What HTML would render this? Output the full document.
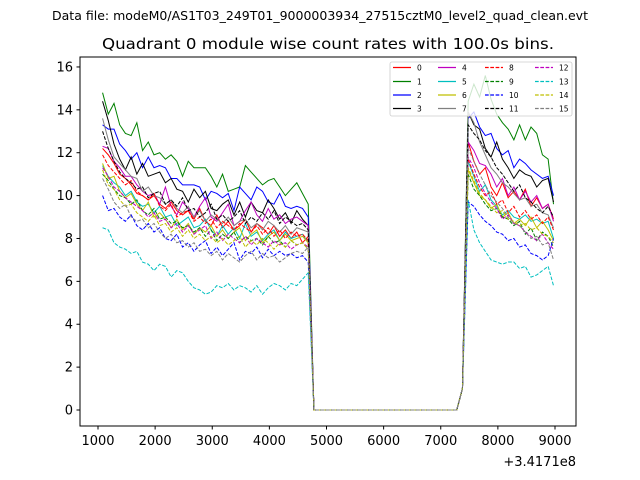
<!DOCTYPE html>
<html><head><meta charset="utf-8"><style>
html,body{margin:0;padding:0;background:#fff;}
svg{display:block;font-family:"DejaVu Sans","Liberation Sans",sans-serif;}
</style></head><body>
<svg id="chart" width="640" height="480" viewBox="0 0 640 480" xmlns="http://www.w3.org/2000/svg">
<rect x="0" y="0" width="640" height="480" fill="#fff"/>
<text x="320" y="20" text-anchor="middle" font-size="12" textLength="536" lengthAdjust="spacingAndGlyphs">Data file: modeM0/AS1T03_249T01_9000003934_27515cztM0_level2_quad_clean.evt</text>
<text x="328" y="49" text-anchor="middle" font-size="15" textLength="452" lengthAdjust="spacingAndGlyphs">Quadrant 0 module wise count rates with 100.0s bins.</text>
<g id="plot"></g>
<rect x="80" y="57" width="496" height="369" fill="none" stroke="#000" stroke-width="1"/>
<g id="xticks"></g>
<g id="yticks"></g>
<text x="576" y="466" text-anchor="end" font-size="13">+3.4171e8</text>
<g id="legend"></g>
</svg>
<script>
const seriesNames = ["0","1","2","3","4","5","6","7","8","9","10","11","12","13","14","15"];
const gapValues = [0,0,0,0,0,0,0,0,0,0,0,0,0,0,0,0,0,0,0,0,0,0,0,0,0,0,1.0];
const s0 = [12.2,11.9,11.5,11.0,10.8,10.5,10.1,10.0,9.8,10.0,9.6,9.4,9.7,9.3,9.1,9.3,8.9,9.4,8.8,8.6,9.1,8.5,8.8,8.4,8.6,8.9,8.3,8.7,8.5,8.2,8.6,8.1,8.4,8.0,8.3,7.8,8.1];
const s0b = [12.5,11.6,11.0,11.3,10.4,10.0,10.6,9.9,10.2,9.8,10.3,9.5,9.9,9.4,9.6,8.9];
const s1 = [14.8,13.8,14.3,13.3,12.9,12.8,13.4,12.1,12.5,11.9,12.0,11.7,11.9,11.6,10.9,11.6,11.3,11.3,11.3,10.9,10.4,11.0,10.2,10.3,10.4,11.4,11.1,10.8,10.5,10.7,10.8,10.4,10.0,10.3,10.6,10.1,9.6];
const s1b = [14.4,15.2,14.6,15.6,14.5,13.8,13.4,13.1,12.6,13.3,12.6,13.2,12.9,11.9,11.7,9.6];
const s2 = [13.3,13.1,13.1,12.4,12.1,11.7,12.0,11.3,11.8,11.3,11.4,11.3,10.8,10.8,10.5,10.5,10.5,10.4,9.8,10.2,10.1,9.9,10.1,9.3,10.4,10.1,9.8,10.4,10.2,9.7,9.6,10.1,9.5,9.4,9.5,9.4,9.0];
const s2b = [13.6,13.9,13.2,12.8,12.9,12.2,11.9,12.1,11.3,11.7,11.5,11.2,11.0,10.8,10.9,10.0];
const s3 = [14.4,13.5,12.4,11.7,11.2,11.8,11.0,11.5,10.9,11.0,11.1,10.6,10.8,10.3,10.2,9.7,10.3,9.9,10.2,9.4,9.3,9.6,9.8,9.1,9.7,9.0,9.7,9.3,9.2,9.8,9.4,8.9,9.2,8.7,9.3,8.9,8.6];
const s3b = [13.9,13.3,13.1,12.2,11.8,12.5,11.7,11.3,10.8,11.2,11.0,10.9,10.4,10.7,10.8,9.7];
const s4 = [12.3,12.2,11.6,11.3,10.9,10.9,10.5,10.2,10.0,10.1,9.6,10.4,9.5,9.1,9.7,9.4,9.0,9.5,9.9,9.0,8.8,9.2,9.6,8.6,8.8,9.3,9.7,9.1,8.8,9.4,8.9,9.1,8.7,8.9,9.0,8.8,8.6];
const s4b = [12.5,12.1,11.5,11.4,11.0,10.4,10.8,10.0,10.4,9.8,10.2,9.7,10.0,9.4,9.6,8.8];
const s5 = [11.4,10.9,10.6,10.4,10.0,10.2,9.7,9.5,9.6,9.2,9.5,9.0,9.1,8.6,8.8,9.0,8.5,8.6,8.9,8.4,8.1,8.6,8.2,8.5,8.0,8.7,8.1,8.3,7.9,8.2,8.4,7.9,8.3,8.0,8.1,8.2,7.8];
const s5b = [11.6,10.9,10.2,10.5,9.8,9.5,9.1,9.3,9.0,8.9,9.1,8.8,8.9,8.7,8.8,8.0];
const s6 = [11.5,10.8,10.9,10.2,9.9,10.1,9.6,9.3,9.7,9.0,9.2,8.9,8.5,8.9,8.4,8.7,8.2,8.5,8.3,8.6,8.1,8.4,8.0,8.3,8.5,7.9,8.2,8.4,7.8,8.1,8.3,7.9,8.2,7.9,8.0,8.1,7.8];
const s6b = [11.2,10.6,10.0,9.8,9.4,9.6,9.0,9.2,8.7,8.9,8.6,9.0,8.5,8.8,8.4,7.9];
const s7 = [13.6,12.6,11.8,11.5,11.2,10.9,10.8,10.2,10.4,10.0,9.9,9.6,9.8,9.4,9.2,9.5,9.0,9.3,8.8,9.1,8.9,8.7,9.0,8.6,8.8,8.9,8.5,8.7,8.4,8.8,8.6,8.3,8.6,8.2,8.5,8.4,8.3];
const s7b = [13.9,13.4,12.5,11.9,11.3,11.0,10.6,10.4,10.1,9.8,9.9,9.5,9.6,9.2,9.1,8.5];
const s8 = [11.9,11.4,11.1,10.8,10.5,10.7,10.2,10.0,9.8,10.1,9.5,9.3,9.6,9.0,9.2,9.3,8.8,9.0,8.7,8.9,8.5,8.8,8.6,8.4,8.7,8.5,8.3,8.6,8.2,8.5,8.1,8.4,8.0,8.3,8.1,8.2,7.9];
const s8b = [11.7,11.0,10.4,10.0,10.2,9.6,9.8,9.2,9.5,9.0,9.3,8.9,9.1,8.7,9.0,8.4];
const s9 = [11.0,10.7,10.3,10.0,9.9,9.6,9.8,9.3,9.1,9.4,8.9,9.0,8.7,8.8,8.5,8.6,8.3,8.5,8.1,8.4,7.9,8.2,8.0,8.3,7.8,8.1,7.9,8.0,7.7,8.1,7.8,7.9,7.6,7.9,7.7,7.8,7.5];
const s9b = [11.0,10.3,10.0,9.6,9.3,9.4,9.0,8.9,8.6,8.8,8.2,8.5,7.9,8.3,8.1,7.6];
const s10 = [10.0,9.3,9.4,9.0,8.8,9.1,8.6,8.4,8.7,8.3,8.5,8.0,7.9,8.2,7.6,7.8,7.4,7.7,7.9,7.3,7.6,7.2,7.5,7.8,7.0,7.4,7.3,7.6,7.1,7.5,7.2,7.4,7.2,7.3,7.1,7.2,6.9];
const s10b = [9.7,9.5,9.1,8.8,8.6,8.3,8.2,7.9,8.0,7.6,7.7,7.3,7.2,7.0,7.2,8.0];
const s11 = [13.0,12.2,11.6,11.1,10.8,10.6,10.3,10.4,9.9,10.1,10.2,9.6,9.8,9.5,9.9,9.3,9.4,9.0,9.2,9.6,8.9,9.1,8.8,9.0,9.3,8.7,9.0,8.8,9.2,8.9,9.3,8.7,9.0,8.8,8.6,8.7,8.4];
const s11b = [13.3,12.9,12.6,12.1,11.8,11.3,11.0,10.6,10.2,10.5,9.9,9.7,9.4,9.2,9.5,9.0];
const s12 = [11.3,10.9,10.4,10.2,9.9,9.7,9.5,9.3,9.0,9.2,8.8,8.9,8.5,8.7,8.3,8.6,8.2,8.4,8.6,8.0,8.3,7.9,8.2,8.0,7.8,8.1,7.7,8.0,7.8,7.6,7.9,7.7,7.8,7.5,7.7,7.8,7.6];
const s12b = [11.8,11.3,10.6,10.1,9.7,9.4,8.9,9.1,8.7,8.6,8.3,8.1,7.9,8.2,7.8,7.5];
const s13 = [8.5,8.4,7.8,7.6,7.5,7.3,7.4,6.9,6.8,6.5,6.8,6.7,6.2,6.5,6.4,6.0,5.7,5.6,5.4,5.5,5.8,5.7,5.9,5.6,5.8,5.7,5.5,5.8,5.4,5.7,5.9,5.8,5.6,5.9,5.8,6.1,6.4];
const s13b = [9.8,8.4,7.8,7.4,7.0,6.9,6.8,6.9,6.9,6.6,6.7,6.2,6.3,6.5,6.7,5.8];
const s14 = [11.2,10.5,10.3,9.8,9.5,9.6,9.2,9.0,8.8,9.1,8.6,8.7,8.3,8.5,8.1,8.4,8.0,8.2,7.9,8.1,7.8,8.0,7.7,7.9,8.1,7.6,7.9,7.7,8.0,7.8,7.5,7.8,7.6,7.9,7.7,7.8,7.5];
const s14b = [11.3,10.7,10.1,9.8,9.5,9.2,9.3,8.9,8.8,8.6,8.7,8.4,8.5,8.2,8.1,7.8];
const s15 = [10.8,10.3,9.7,9.4,9.6,9.0,8.8,8.9,8.5,8.7,8.3,8.0,8.2,7.8,7.9,7.6,7.8,7.4,7.5,7.2,7.4,7.0,7.3,7.1,6.9,7.2,7.4,7.0,7.3,7.1,7.2,6.9,7.1,7.3,7.4,7.3,7.6];
const s15b = [12.2,11.6,11.0,10.5,10.0,9.7,9.4,9.0,8.7,8.6,8.3,8.0,8.1,7.7,7.8,7.0];
const xTickValues = [1000,2000,3000,4000,5000,6000,7000,8000,9000];
const yTickValues = [0,2,4,6,8,10,12,14,16];

const firstSegs = [s0,s1,s2,s3,s4,s5,s6,s7,s8,s9,s10,s11,s12,s13,s14,s15];
const secondSegs = [s0b,s1b,s2b,s3b,s4b,s5b,s6b,s7b,s8b,s9b,s10b,s11b,s12b,s13b,s14b,s15b];
const colors = ["#ff0000","#008000","#0000ff","#000000","#bf00bf","#00bfbf","#bfbf00","#808080"];
const NS = "http://www.w3.org/2000/svg";
function xs(t){ return 98 + (t-1000)*0.057125; }
function ys(v){ return 410 - v*21.44; }

const plot = document.getElementById('plot');
firstSegs.forEach((seg, k) => {
  const vals = seg.concat(gapValues, secondSegs[k]);
  const pts = vals.map((v,i) => {
    const t = (i === vals.length-1) ? 8974 : 1080 + 100*i;
    return xs(t).toFixed(2)+","+ys(v).toFixed(2);
  }).join(" ");
  const pl = document.createElementNS(NS,'polyline');
  pl.setAttribute('points', pts);
  pl.setAttribute('fill','none');
  pl.setAttribute('stroke', colors[k%8]);
  pl.setAttribute('stroke-width','1');
  if (k >= 8) pl.setAttribute('stroke-dasharray','3.7,1.6');
  
  
  plot.appendChild(pl);
});

const xg = document.getElementById('xticks');
xTickValues.forEach(t => {
  const x = xs(t);
  const ln = document.createElementNS(NS,'line');
  ln.setAttribute('x1',x); ln.setAttribute('x2',x); ln.setAttribute('y1',426); ln.setAttribute('y2',429.5);
  ln.setAttribute('stroke','#000');
  
  
  xg.appendChild(ln);
  const tx = document.createElementNS(NS,'text');
  tx.setAttribute('x',x); tx.setAttribute('y',445); tx.setAttribute('text-anchor','middle'); tx.setAttribute('font-size','13');
  tx.textContent = t;
  
  
  xg.appendChild(tx);
});
const yg = document.getElementById('yticks');
yTickValues.forEach(v => {
  const y = ys(v);
  const ln = document.createElementNS(NS,'line');
  ln.setAttribute('x1',76.5); ln.setAttribute('x2',80); ln.setAttribute('y1',y); ln.setAttribute('y2',y);
  ln.setAttribute('stroke','#000');
  
  
  yg.appendChild(ln);
  const tx = document.createElementNS(NS,'text');
  tx.setAttribute('x',73); tx.setAttribute('y',y+4.5); tx.setAttribute('text-anchor','end'); tx.setAttribute('font-size','13');
  tx.textContent = v;
  
  
  yg.appendChild(tx);
});

const lg = document.getElementById('legend');
const box = document.createElementNS(NS,'rect');
box.setAttribute('x',390); box.setAttribute('y',62); box.setAttribute('width',182); box.setAttribute('height',54);
box.setAttribute('rx',2); box.setAttribute('fill','#fff'); box.setAttribute('fill-opacity','0.8'); box.setAttribute('stroke','#ccc'); box.setAttribute('stroke-width','0.8');


lg.appendChild(box);
const colX = [393,438,485,535];
const rowY = [67.5,81.5,95,108.5];
seriesNames.forEach((nm,k) => {
  const c = Math.floor(k/4), r = k%4;
  const ln = document.createElementNS(NS,'line');
  ln.setAttribute('x1',colX[c]); ln.setAttribute('x2',colX[c]+18); ln.setAttribute('y1',rowY[r]); ln.setAttribute('y2',rowY[r]);
  ln.setAttribute('stroke',colors[k%8]); ln.setAttribute('stroke-width','1.3');
  if (k>=8) ln.setAttribute('stroke-dasharray','3.7,1.6');
  
  
  lg.appendChild(ln);
  const tx = document.createElementNS(NS,'text');
  tx.setAttribute('x',colX[c]+24); tx.setAttribute('y',rowY[r]+2.8); tx.setAttribute('font-size','7.5');
  tx.textContent = nm;
  
  
  lg.appendChild(tx);
});
</script>
</body></html>
